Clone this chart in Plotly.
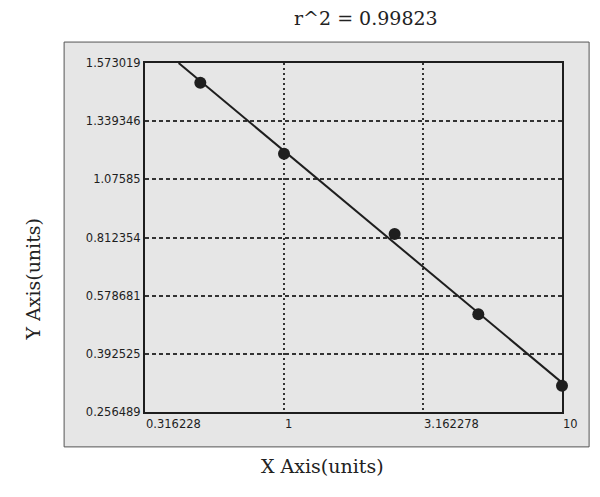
import numpy as np
import plotly.graph_objects as go

# standard curve readings
conc = [0.5, 1, 2.5, 5, 10]
od = [1.4936, 1.1918, 0.8282, 0.5191, 0.3177]

x_ticks = [0.316228, 1, 3.162278, 10]
x_tick_text = ["0.316228", "1", "3.162278", "10"]
y_tick_values = [0.256489, 0.392525, 0.578681, 0.812354, 1.07585, 1.339346, 1.573019]
y_tick_text = ["0.256489", "0.392525", "0.578681", "0.812354", "1.07585", "1.339346", "1.573019"]
r_squared = 0.99823

# the y scale puts the tick values at even steps, so map readings onto that scale
pos = list(range(len(y_tick_values)))
od_pos = np.interp(od, y_tick_values, pos)
slope, icpt = np.polyfit(np.log10(conc), od_pos, 1)
lx_start = (pos[-1] - icpt) / slope
lx = np.array([lx_start, np.log10(conc[-1])])
line_x = 10 ** lx
line_y = slope * lx + icpt

PANEL = "#e6e6e6"
INK = "#1e1e1e"

fig = go.Figure()
fig.add_trace(go.Scatter(x=line_x, y=line_y, mode="lines",
                         line=dict(color=INK, width=2), showlegend=False, cliponaxis=False))
fig.add_trace(go.Scatter(x=conc, y=od_pos, mode="markers",
                         marker=dict(color=INK, size=12), showlegend=False, cliponaxis=False))

fig.add_shape(type="rect", xref="paper", yref="paper", x0=-0.194, x1=1.065, y0=-0.1, y1=1.06,
              fillcolor=PANEL, line=dict(color="#555", width=1), layer="below")

fig.update_layout(
    width=600, height=497,
    margin=dict(l=145, r=38, t=63, b=85),
    paper_bgcolor="white", plot_bgcolor=PANEL,
    font=dict(family="DejaVu Sans", size=11.5, color=INK),
    xaxis=dict(type="log", range=[-0.5, 1], tickvals=x_ticks, ticktext=x_tick_text,
               ticklabelposition="outside right", ticks="", showgrid=True,
               gridcolor="#333", gridwidth=1.5, griddash="2px,3px",
               showline=True, mirror=True, linecolor=INK, linewidth=2, zeroline=False),
    yaxis=dict(range=[0, 6], tickvals=pos, ticktext=y_tick_text, ticks="",
               showgrid=True, gridcolor="#333", gridwidth=1.5, griddash="4px,3px",
               showline=True, mirror=True, linecolor=INK, linewidth=2, zeroline=False),
    annotations=[
        dict(text=f"r^2\u00a0=\u00a0{r_squared}", xref="paper", yref="paper", x=0.53, y=1.129,
             showarrow=False, xanchor="center", yanchor="middle",
             font=dict(family="DejaVu Serif", size=19, color="#222")),
        dict(text="X Axis(units)", xref="paper", yref="paper", x=0.425, y=-0.155,
             showarrow=False, xanchor="center", yanchor="middle",
             font=dict(family="DejaVu Serif", size=19, color="#222")),
        dict(text="Y Axis(units)", xref="paper", yref="paper", x=-0.268, y=0.38,
             showarrow=False, xanchor="center", yanchor="middle", textangle=-90,
             font=dict(family="DejaVu Serif", size=19, color="#222")),
    ],
)

fig.write_html("out.html", config={"displayModeBar": False},
               post_script="document.body.style.margin='0';")
